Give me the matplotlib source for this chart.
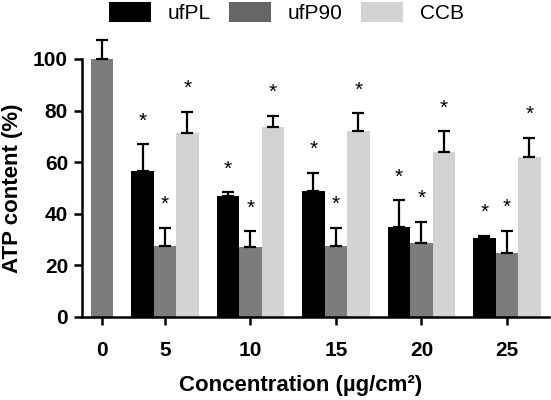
import numpy as np
import matplotlib
matplotlib.use("Agg")
import matplotlib.pyplot as plt
from matplotlib.patches import Patch

plt.rcParams['font.family'] = ['Liberation Sans', 'DejaVu Sans']

# data
concentrations = ["0", "5", "10", "15", "20", "25"]
control = 100.0
control_err = 7.5
ufPL = [56.5, 46.8, 49.0, 35.0, 30.5]
ufPL_err = [10.5, 1.5, 7.0, 10.3, 1.0]
ufP90 = [27.5, 27.2, 27.5, 28.5, 25.0]
ufP90_err = [7.0, 6.0, 7.0, 8.5, 8.5]
CCB = [71.5, 73.5, 72.0, 64.0, 62.0]
CCB_err = [8.0, 4.5, 7.0, 8.0, 7.5]
series_names = ["ufPL", "ufP90", "CCB"]

colors = ["#000000", "#7c7c7c", "#d3d3d3"]
legend_colors = ["#000000", "#666666", "#d3d3d3"]

fig = plt.figure(figsize=(5.51, 4.0), dpi=100)
ax = fig.add_axes([0.1488, 0.2075, 0.8476, 0.645])

w = 1.0
gap = 0.8
centers = np.r_[0.0, 2 * w + gap + (3 * w + gap) * np.arange(5)]

err_kw = dict(ecolor="black", elinewidth=1.6, capsize=4.5, capthick=1.6)

# control bar at 0
ax.bar(centers[0], control, w, color=colors[1], clip_on=False)
ax.errorbar(centers[0], control, yerr=[[0], [control_err]], fmt="none",
            clip_on=False, **err_kw)

star_off = 9.0
for i, (vals, errs) in enumerate([(ufPL, ufPL_err), (ufP90, ufP90_err), (CCB, CCB_err)]):
    xs = centers[1:] + (i - 1) * w
    ax.bar(xs, vals, w, color=colors[i], clip_on=False)
    ax.errorbar(xs, vals, yerr=[np.zeros(len(vals)), errs], fmt="none",
                clip_on=False, **err_kw)
    for x, v, e in zip(xs, vals, errs):
        ax.text(x, v + e + star_off, "*", ha="center", va="center",
                fontsize=15, clip_on=False)

ax.set_ylim(0, 100)
ax.set_xlim(-0.89, 19.87)
ax.set_yticks([0, 20, 40, 60, 80, 100])
ax.set_xticks(centers)
ax.set_xticklabels(concentrations)

for s in ["top", "right"]:
    ax.spines[s].set_visible(False)
for s in ["left", "bottom"]:
    ax.spines[s].set_linewidth(1.8)
ax.tick_params(axis="both", width=1.8, length=6, labelsize=15, pad=4)
ax.tick_params(axis="x", pad=11)
for lab in ax.get_xticklabels() + ax.get_yticklabels():
    lab.set_fontweight("bold")

ax.set_ylabel("ATP content (%)", fontsize=16, fontweight="bold", labelpad=7)
fig.text(0.545, 0.035, "Concentration (\u00b5g/cm\u00b2)", ha="center",
         va="center", fontsize=16, fontweight="bold")

handles = [Patch(facecolor=c, edgecolor="none") for c in legend_colors]
fig.legend(handles, series_names, loc="center", bbox_to_anchor=(0.52, 0.968),
           ncol=3, frameon=False, fontsize=15, handlelength=2.0,
           handleheight=1.1, handletextpad=0.8, columnspacing=0.9)

fig.savefig("out.png", dpi=100)
